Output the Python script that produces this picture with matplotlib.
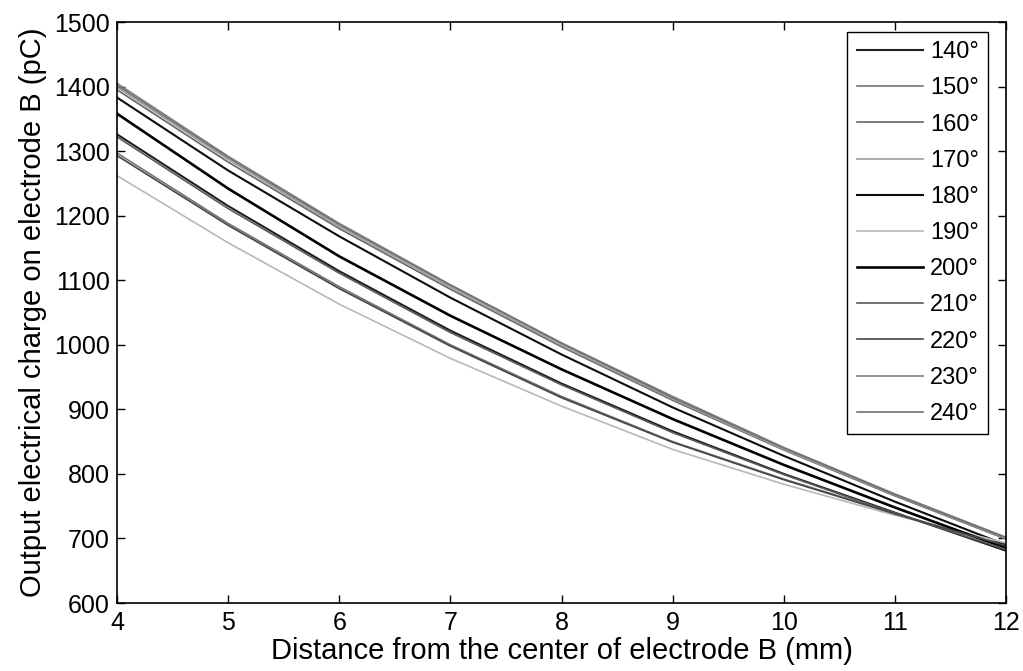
import matplotlib
matplotlib.use('Agg')
import matplotlib.pyplot as plt

plt.rcParams['font.family'] = ['Liberation Sans', 'DejaVu Sans']

# distance (mm)
distance = [4, 5, 6, 7, 8, 9, 10, 11, 12]

# output charge (pC) for each angle
angles = ['140', '150', '160', '170', '180', '190', '200', '210', '220', '230', '240']
charge = {
    '140': [1326, 1215, 1114, 1022, 940, 866, 800, 740, 681],
    '150': [1297, 1188, 1090, 1000, 920, 850, 792, 739, 688],
    '160': [1395, 1283, 1180, 1086, 997, 914, 837, 766, 699],
    '170': [1399, 1287, 1183, 1089, 999, 916, 838, 767, 700],
    '180': [1383, 1270, 1168, 1073, 985, 903, 828, 757, 690],
    '190': [1262, 1158, 1063, 979, 905, 838, 784, 736, 693],
    '200': [1358, 1242, 1137, 1045, 962, 885, 814, 748, 685],
    '210': [1322, 1211, 1111, 1019, 938, 864, 799, 739, 683],
    '220': [1293, 1185, 1087, 998, 918, 849, 791, 738, 689],
    '230': [1405, 1292, 1188, 1093, 1003, 920, 841, 769, 702],
    '240': [1402, 1290, 1186, 1092, 1002, 918, 840, 768, 701],
}

# grey shades and widths as printed
shade = {'140': '0.12', '150': '0.45', '160': '0.40', '170': '0.62', '180': '0.05',
         '190': '0.72', '200': '0.0', '210': '0.35', '220': '0.28', '230': '0.50',
         '240': '0.45'}
width = {a: 1.2 for a in angles}
width['200'] = 1.9
width['180'] = 1.5
width['140'] = 1.5

fig = plt.figure(figsize=(10.23, 6.71), dpi=100)
ax = fig.add_axes([0.1144, 0.1013, 0.869, 0.8659])

for a in angles:
    ax.plot(distance, charge[a], color=shade[a], lw=width[a], label=a + '°')

ax.set_xlim(4, 12)
ax.set_ylim(600, 1500)
ax.set_xticks(range(4, 13))
ax.set_yticks(range(600, 1501, 100))
ax.tick_params(direction='in', top=True, right=True, labelsize=18, length=6, width=1)
ax.tick_params(axis='x', pad=6)
ax.tick_params(axis='y', pad=5)
for s in ax.spines.values():
    s.set_linewidth(1.2)

ax.set_xlabel('Distance from the center of electrode B (mm)', fontsize=21, labelpad=1)
ax.set_ylabel('Output electrical charge on electrode B (pC)', fontsize=21, labelpad=5)

leg = ax.legend(loc='upper right', bbox_to_anchor=(0.980, 0.983), borderaxespad=0,
                fontsize=17, handlelength=2.8, labelspacing=0.6, handletextpad=0.3,
                fancybox=False, framealpha=1, edgecolor='black', borderpad=0.4)
leg.get_frame().set_linewidth(1.0)

fig.savefig('out.png', dpi=100)
